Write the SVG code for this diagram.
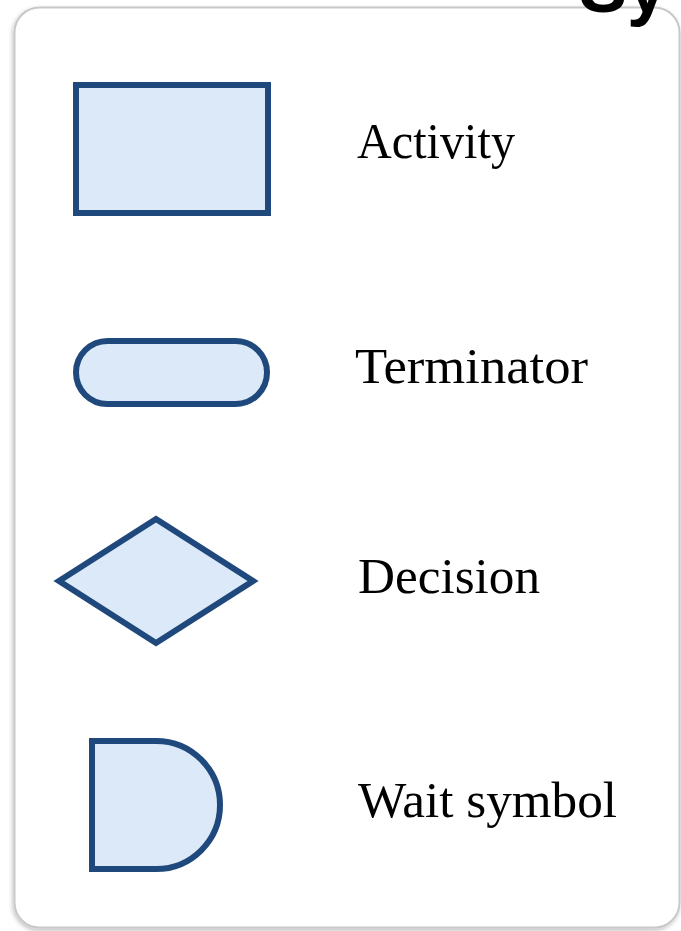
<svg xmlns="http://www.w3.org/2000/svg" width="681" height="931" viewBox="0 0 681 931">
  <style>
    .shape { fill: #dce9f8; stroke: #1f497d; stroke-width: 6; stroke-linejoin: miter; }
    .label { font-family: "Liberation Serif", "Times New Roman", serif; font-size: 50px; fill: #000000; }
    .title { font-family: "Liberation Sans", Arial, sans-serif; font-size: 72px; font-weight: bold; fill: #000000; }
  </style>
  <defs>
    <filter id="shadow" x="-5%" y="-5%" width="110%" height="110%">
      <feDropShadow dx="-1" dy="2" stdDeviation="2" flood-color="#000000" flood-opacity="0.25"/>
    </filter>
  </defs>
  <rect width="681" height="931" fill="#ffffff"/>
  <g id="legend-box">
    <rect x="14.5" y="7.5" width="665" height="920" rx="25" ry="25" fill="#ffffff" stroke="#c8c8c8" stroke-width="2" filter="url(#shadow)"/>
  </g>
  <g id="title">
    <text class="title" x="579" y="12">Sy</text>
  </g>
  <g id="activity">
    <rect class="shape" x="76" y="85" width="192" height="128"/>
    <text class="label" x="357" y="158" textLength="158" lengthAdjust="spacingAndGlyphs">Activity</text>
  </g>
  <g id="terminator">
    <rect class="shape" x="76" y="341" width="191" height="63" rx="31.5" ry="31.5"/>
    <text class="label" x="355" y="383" textLength="233" lengthAdjust="spacingAndGlyphs">Terminator</text>
  </g>
  <g id="decision">
    <polygon class="shape" points="156,519 253,581 156,643 59,581"/>
    <text class="label" x="358" y="593" textLength="182" lengthAdjust="spacingAndGlyphs">Decision</text>
  </g>
  <g id="wait">
    <path class="shape" d="M92,741 H156 A64,64 0 0 1 156,869 H92 Z"/>
    <text class="label" x="358" y="817" textLength="259" lengthAdjust="spacingAndGlyphs">Wait symbol</text>
  </g>
  <g id="connectors"></g>
</svg>
